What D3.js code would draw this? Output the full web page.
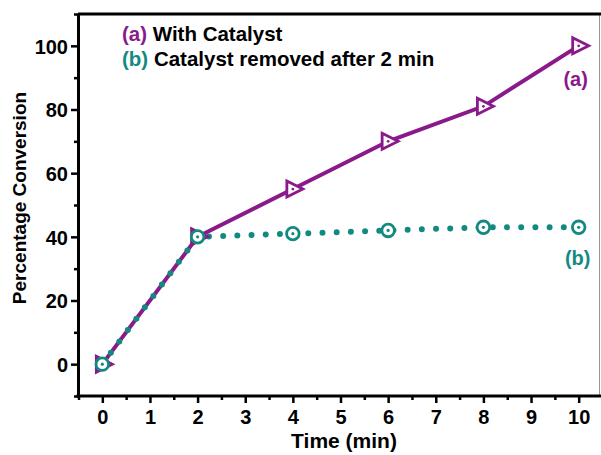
<!DOCTYPE html>
<html><head><meta charset="utf-8">
<script src="https://cdn.jsdelivr.net/npm/d3@7"></script>
<style>body{margin:0;background:#fff}svg{display:block}text{font-family:Arial,"Liberation Sans",sans-serif;font-weight:bold}</style>
</head><body>
<svg id="c" width="601" height="455"></svg>
<script>
const times = [0, 2, 4, 6, 8, 10];
const seriesA = [0, 40, 55, 70, 81, 100];
const timesB = [0, 2, 4, 6, 8, 10];
const seriesB = [0, 40, 41, 42, 43, 43];
const xTicks = [0,1,2,3,4,5,6,7,8,9,10];
const yTicks = [0,20,40,60,80,100];
const legendA = "With Catalyst";
const legendB = "Catalyst removed after 2 min";

const purple = "#8a1a8a", teal = "#138a80";
const FS = 20;
const svg = d3.select("#c");
const x = d3.scaleLinear().domain([-0.5, 10.5]).range([78.5, 602.5]);
const y = d3.scaleLinear().domain([-10, 110]).range([396, 14]);

// frame
svg.append("line").attr("x1",599.5).attr("x2",599.5).attr("y1",14).attr("y2",396).attr("stroke","#999").attr("stroke-width",1);
svg.append("line").attr("x1",78).attr("x2",601).attr("y1",14).attr("y2",14).attr("stroke","#000").attr("stroke-width",3);

// axes
const xMinor = d3.range(-0.5, 10.51, 0.5).filter(v=>!Number.isInteger(v));
const yMinor = d3.range(-10, 111, 20);
const gx = svg.append("g").attr("transform","translate(0,396)");
gx.call(d3.axisBottom(x).tickValues(xTicks).tickFormat(d3.format("d")).tickSize(7).tickSizeOuter(0));
const gxm = svg.append("g").attr("transform","translate(0,396)");
gxm.call(d3.axisBottom(x).tickValues(xMinor).tickFormat("").tickSize(4).tickSizeOuter(0));
gxm.select(".domain").remove();
const gy = svg.append("g").attr("transform","translate(78,0)");
gy.call(d3.axisLeft(y).tickValues(yTicks).tickSize(7).tickSizeOuter(0));
const gym = svg.append("g").attr("transform","translate(78,0)");
gym.call(d3.axisLeft(y).tickValues(yMinor).tickFormat("").tickSize(4).tickSizeOuter(0));
gym.select(".domain").remove();
[gx,gxm,gy,gym].forEach(g=>{
  g.selectAll("line").attr("stroke","#000").attr("stroke-width",2.5);
  g.selectAll(".domain").attr("stroke","#000").attr("stroke-width",3);
  g.selectAll("text").attr("font-size",FS).attr("font-weight","bold").attr("fill","#000").attr("font-family","Arial, Liberation Sans, sans-serif");
});
gx.selectAll("text").attr("y",0).attr("dy",null).attr("transform","translate(0,28)");
gy.selectAll("text").attr("x",-10).attr("dy","0.36em");
gx.selectAll(".domain").attr("d","M76.5,0H601");

// lines
const dataA = times.map((t,i)=>({t, v:seriesA[i]}));
const dataB = timesB.map((t,i)=>({t, v:seriesB[i]}));
const line = d3.line().x(d=>x(d.t)).y(d=>y(d.v));
svg.append("path").datum(dataA).attr("d",line).attr("fill","none").attr("stroke",purple).attr("stroke-width",4);
svg.append("path").datum(dataB).attr("d",line).attr("fill","none").attr("stroke",teal).attr("stroke-width",6)
  .attr("stroke-linecap","round").attr("stroke-dasharray","0 14.2");

// markers A: right triangles
const tri = d=>{const cx=x(d.t), cy=y(d.v); return `M${cx-6},${cy-8}L${cx+10},${cy}L${cx-6},${cy+8}Z`;};
svg.selectAll(".ma").data(dataA).join("path").attr("d",tri).attr("fill","#fff").attr("stroke",purple).attr("stroke-width",2.8);
svg.selectAll(".mad").data(dataA).join("circle").attr("cx",d=>x(d.t)).attr("cy",d=>y(d.v)).attr("r",1.4).attr("fill",purple);
// markers B: circles
svg.selectAll(".mb").data(dataB).join("circle").attr("cx",d=>x(d.t)).attr("cy",d=>y(d.v)).attr("r",6.3).attr("fill","#fff").attr("stroke",teal).attr("stroke-width",2.8);
svg.selectAll(".mbd").data(dataB).join("circle").attr("cx",d=>x(d.t)).attr("cy",d=>y(d.v)).attr("r",1.6).attr("fill",teal);

// legend
const lg = svg.append("text").attr("x",122).attr("y",41).attr("font-size",20.5);
lg.append("tspan").attr("fill",purple).text("(a) ");
lg.append("tspan").attr("fill","#000").text(legendA);
const lg2 = svg.append("text").attr("x",122).attr("y",66).attr("font-size",20.5);
lg2.append("tspan").attr("fill",teal).text("(b) ");
lg2.append("tspan").attr("fill","#000").text(legendB);

// end labels
svg.append("text").attr("x",x(10)-3).attr("y",y(seriesA[5])+40).attr("text-anchor","middle").attr("font-size",FS).attr("fill",purple).text("(a)");
svg.append("text").attr("x",x(10)-1).attr("y",y(seriesB[5])+38).attr("text-anchor","middle").attr("font-size",FS).attr("fill",teal).text("(b)");

// axis titles
svg.append("text").attr("x",344).attr("y",448).attr("text-anchor","middle").attr("font-size",21).attr("fill","#000").text("Time (min)");
svg.append("text").attr("transform","translate(26,198) rotate(-90)").attr("text-anchor","middle").attr("font-size",19).attr("fill","#000").text("Percentage Conversion");
</script>
</body></html>
